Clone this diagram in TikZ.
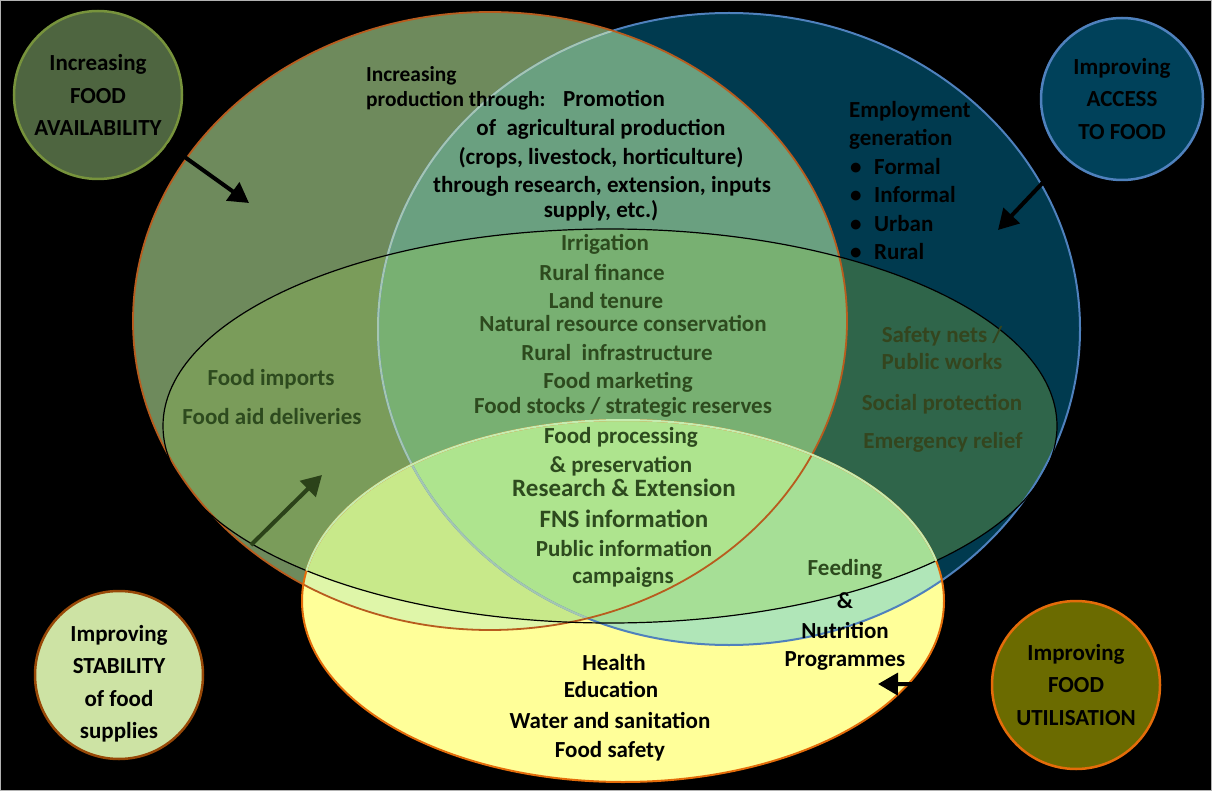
\documentclass[tikz,border=0pt]{standalone}
\usepackage{fontspec}
\setmainfont{Carlito}
\usepackage{tikz}
\usetikzlibrary{arrows.meta}

\definecolor{availfill}{HTML}{6E8A5C}
\definecolor{accessfill}{HTML}{003A4F}
\definecolor{bothfill}{HTML}{6AA080}
\definecolor{stabA}{HTML}{7A9C5A}
\definecolor{stabB}{HTML}{2F654A}
\definecolor{stabAB}{HTML}{78B072}
\definecolor{utilfill}{HTML}{FFFF99}
\definecolor{utilA}{HTML}{DFF6A9}
\definecolor{utilB}{HTML}{B0E6B8}
\definecolor{utilAB}{HTML}{C4EEB0}
\definecolor{utilSA}{HTML}{C8E98A}
\definecolor{utilSB}{HTML}{A6DF96}
\definecolor{utilSAB}{HTML}{AEE48E}
\definecolor{availline}{HTML}{B85C1E}
\definecolor{accessline}{HTML}{4F81BD}
\definecolor{utilline}{HTML}{E46C0A}
\definecolor{leaf}{HTML}{2D4A1E}
\definecolor{moss}{HTML}{34451E}
\definecolor{availgoal}{HTML}{4E6540}
\definecolor{availring}{HTML}{77933C}
\definecolor{accessgoal}{HTML}{00415A}
\definecolor{stabgoal}{HTML}{CDE3A4}
\definecolor{stabring}{HTML}{984807}
\definecolor{utilgoal}{HTML}{6B6B00}
\definecolor{stabarrow}{HTML}{2B4219}

\tikzstyle{goal} = [circle, minimum size=168pt, inner sep=0pt, line width=2.5pt, align=center, font=\bfseries\fontsize{23}{32.5}\selectfont]
\tikzstyle{item} = [anchor=base, inner sep=0pt, text=leaf, font=\bfseries\fontsize{23}{27}\selectfont]
\tikzstyle{note} = [item, text=black]
\tikzstyle{big} = [font=\bfseries\fontsize{25}{29}\selectfont]
\tikzstyle{small} = [font=\bfseries\fontsize{21.4}{25}\selectfont]
\tikzstyle{arrow} = [line width=4pt, -{Triangle[length=20pt,width=22pt]}]

\newcommand\availpath{(490,321) ellipse [x radius=357pt, y radius=309pt]}
\newcommand\accesspath{(729,329) ellipse [x radius=351pt, y radius=316pt]}
\newcommand\stabpath{(610,426) ellipse [x radius=447pt, y radius=197pt]}
\newcommand\utilpath{(623,601) ellipse [x radius=321pt, y radius=181pt]}

\begin{document}
\begin{tikzpicture}[x=1pt, y=-1pt]
    \useasboundingbox (0,0) rectangle (1212,791);
    \fill [black] (0,0) rectangle (1212,791);
    \draw [gray!60, line width=1pt] (0.5,0.5) rectangle (1211.5,790.5);

    % the four ellipses and their overlaps
    \fill [availfill] \availpath;
    \fill [accessfill] \accesspath;
    \begin{scope} \clip \availpath; \fill [bothfill] \accesspath; \end{scope}
    \begin{scope} \clip \availpath; \fill [stabA] \stabpath; \end{scope}
    \begin{scope} \clip \accesspath; \fill [stabB] \stabpath; \end{scope}
    \begin{scope} \clip \availpath; \clip \accesspath; \fill [stabAB] \stabpath; \end{scope}
    \fill [utilfill] \utilpath;
    \begin{scope} \clip \availpath; \fill [utilA] \utilpath; \end{scope}
    \begin{scope} \clip \accesspath; \fill [utilB] \utilpath; \end{scope}
    \begin{scope} \clip \availpath; \clip \accesspath; \fill [utilAB] \utilpath; \end{scope}
    \begin{scope} \clip \stabpath; \clip \availpath; \fill [utilSA] \utilpath; \end{scope}
    \begin{scope} \clip \stabpath; \clip \accesspath; \fill [utilSB] \utilpath; \end{scope}
    \begin{scope} \clip \stabpath; \clip \availpath; \clip \accesspath; \fill [utilSAB] \utilpath; \end{scope}

    \draw [accessline, line width=2pt] \accesspath;
    \begin{scope} \clip \availpath; \draw [bothfill!60!white, line width=2pt] \accesspath; \end{scope}
    \draw [availline, line width=1.8pt] \availpath;
    \draw [black, line width=1.2pt] \stabpath;
    \draw [utilline, line width=2pt] \utilpath;
    \begin{scope} \clip \stabpath; \draw [utilSAB!70!white, line width=2pt] \utilpath; \end{scope}

    % the four goals
    \node (avail) [goal, fill=availgoal, draw=availring] at (98,95) {Increasing\\FOOD\\AVAILABILITY};
    \node (access) [goal, fill=accessgoal, draw=accessline, minimum size=162pt] at (1122,99) {Improving\\ACCESS\\TO FOOD};
    \node (stability) [goal, fill=stabgoal, draw=stabring] at (119,675) {\rule{0pt}{34pt}Improving\\STABILITY\\of food\\supplies};
    \node (util) [goal, fill=utilgoal, draw=utilline] at (1076,685) {Improving\\FOOD\\UTILISATION};

    \coordinate (availtip) at (249,203);
    \coordinate (accesstip) at (998,230);
    \coordinate (stabilitytip) at (322,475);
    \coordinate (utiltip) at (878,684);

    \draw [arrow] (avail) -- (availtip);
    \draw [arrow, shorten <=33pt] (access) -- (accesstip);
    \draw [arrow, draw=stabarrow, fill=stabarrow, shorten <=100pt] (stability) -- (stabilitytip);
    \draw [arrow, shorten <=77pt] (util) -- (utiltip);

    % availability
    \node (increasing) [note, small, anchor=base west] at (366,82) {Increasing};
    \node (through) [note, small, anchor=base west] at (366,107) {production through:};
    \node (promotion) [note] at (614,107) {Promotion};
    \node (agri) [note] at (601,136) {of\ \ agricultural production};
    \node (crops) [note] at (601,165) {(crops, livestock, horticulture)};
    \node (research) [note] at (602,193) {through research, extension, inputs};
    \node (supply) [note] at (601,218) {supply, etc.)};
    \node (imports) [item] at (271,385) {Food imports};
    \node (aid) [item] at (272,424) {Food aid deliveries};

    % shared measures
    \node (irrigation) [item] at (605,251) {Irrigation};
    \node (finance) [item] at (602,281) {Rural finance};
    \node (tenure) [item] at (606,309) {Land tenure};
    \node (conservation) [item] at (623,331) {Natural resource conservation};
    \node (infrastructure) [item] at (617,360) {Rural\ \ infrastructure};
    \node (marketing) [item] at (618,388) {Food marketing};
    \node (stocks) [item] at (623,413) {Food stocks / strategic reserves};
    \node (processing) [item] at (621,443) {Food processing};
    \node (preservation) [item] at (621,472) {\& preservation};
    \node (extension) [item, big] at (624,496) {Research \& Extension};
    \node (fns) [item, big] at (624,527) {FNS information};
    \node (public) [item] at (624,556) {Public information};
    \node (campaigns) [item] at (623,583) {campaigns};

    % access
    \node (employment) [note, anchor=base west] at (849,118) {Employment};
    \node (generation) [note, anchor=base west] at (849,146) {generation};
    \node (formal) [note, anchor=base west] at (850,175) {\makebox[24pt][l]{\textbullet}Formal};
    \node (informal) [note, anchor=base west] at (850,203) {\makebox[24pt][l]{\textbullet}Informal};
    \node (urban) [note, anchor=base west] at (850,232) {\makebox[24pt][l]{\textbullet}Urban};
    \node (rural) [note, anchor=base west] at (850,260) {\makebox[24pt][l]{\textbullet}Rural};
    \node (safety) [item, text=moss] at (942,342) {Safety nets /};
    \node (works) [item, text=moss] at (942,370) {Public works};
    \node (social) [item, text=moss] at (942,410) {Social protection};
    \node (relief) [item, text=moss] at (943,448) {Emergency relief};

    % utilisation
    \node (feeding) [item] at (845,575) {Feeding};
    \node (amp) [note] at (845,608) {\&};
    \node (nutrition) [note] at (845,638) {Nutrition};
    \node (programmes) [note] at (845,666) {Programmes};
    \node (health) [note] at (614,670) {Health};
    \node (education) [note] at (611,697) {Education};
    \node (water) [note] at (610,728) {Water and sanitation};
    \node (safety2) [note] at (610,757) {Food safety};
\end{tikzpicture}
\end{document}
